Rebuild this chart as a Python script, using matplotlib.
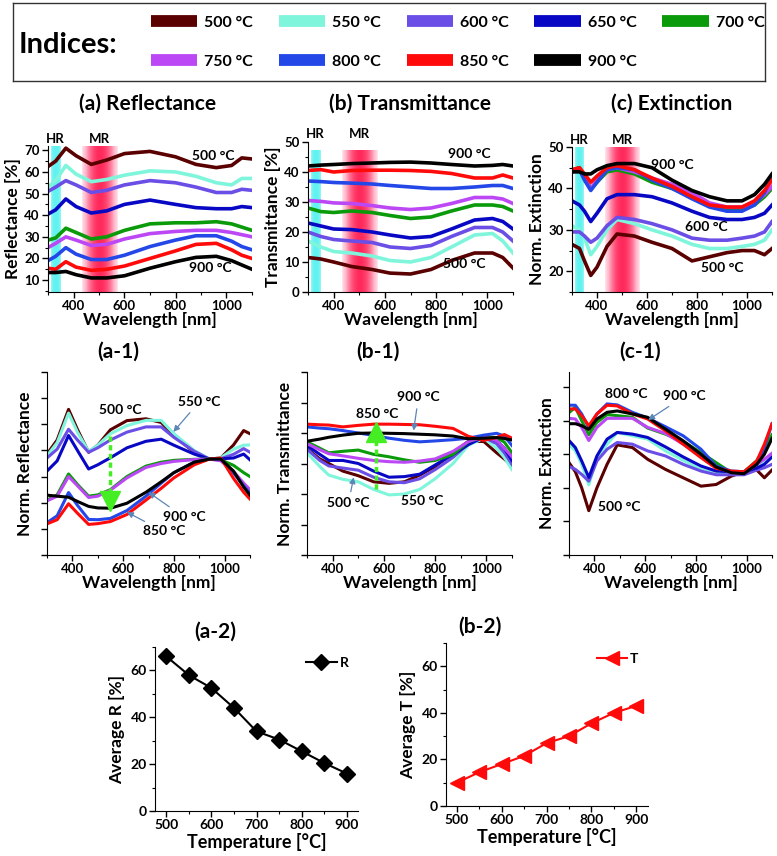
import numpy as np
import matplotlib
matplotlib.use("Agg")
import matplotlib.pyplot as plt
from matplotlib.colors import LinearSegmentedColormap
from matplotlib.lines import Line2D
from matplotlib.ticker import MultipleLocator

plt.rcParams['font.family'] = ['Lato', 'DejaVu Sans']
plt.rcParams['font.weight'] = 'bold'
plt.rcParams['axes.labelweight'] = 'bold'

# ---------------- data ----------------
temps = [500, 550, 600, 650, 700, 750, 800, 850, 900]
colors = ['#5a0000', '#7ff5dc', '#6b4ee6', '#0808c4', '#0a9a0a',
          '#bc48f5', '#2448e8', '#ff0a0a', '#000000']

# (a) reflectance [%]
wl_a = [300, 330, 370, 410, 470, 530, 600, 700, 800, 880, 960, 1020, 1060, 1100]
refl = [
    [62.5, 65, 71, 67.5, 63.5, 65.5, 68.5, 69.5, 67, 63.5, 62, 63, 66.5, 66],
    [53, 56, 63, 59, 55.5, 56.5, 58.5, 60.5, 60, 58, 55, 54, 57, 57],
    [51, 53, 56, 54, 50.5, 51.5, 54, 56, 55, 53, 50.5, 50.5, 52, 51.5],
    [40.5, 42.5, 47.5, 44, 41, 42, 45, 47, 45, 43.5, 43, 43, 44, 43.5],
    [28.5, 29.5, 34, 32, 29, 30, 33, 36, 36.5, 36.5, 37, 36, 34.5, 33],
    [25, 27, 30, 28.5, 26, 26.5, 29, 31.5, 32.5, 33, 33, 32, 31, 30],
    [19, 21, 25, 22, 19.5, 19.5, 21.5, 25.5, 28.5, 30.5, 30.5, 28, 25.5, 24],
    [15.5, 15, 18.5, 16, 14.5, 15, 16.5, 20, 23.5, 26.5, 27, 24, 21.5, 20],
    [13.5, 13.5, 14, 12.5, 11, 11, 12, 15.5, 18.5, 20.5, 21, 19, 17, 15],
]

# (b) transmittance [%]
wl_b = [300, 350, 400, 470, 550, 620, 700, 780, 860, 950, 1020, 1060, 1100]
trans = [
    [11.5, 11, 10, 8.5, 7.5, 6.3, 6, 7.5, 10.5, 13, 13, 11.5, 8],
    [17, 15, 13.5, 13, 12, 10.5, 10, 11.5, 15, 19, 19.5, 17, 13],
    [20, 18.5, 17.5, 17, 16.5, 15, 14.5, 15.5, 18.5, 21.5, 21.5, 20, 17],
    [23, 22, 21, 20.8, 20, 19, 18, 18.5, 21, 24, 24.5, 23.5, 21],
    [28, 26.8, 26.5, 27, 26.5, 25.5, 24.5, 25, 27, 29, 29, 28.5, 27],
    [30.5, 30.2, 29.7, 29.5, 28.8, 28, 27.5, 28, 29.5, 31.5, 31.5, 31, 29.5],
    [37, 36.8, 36.5, 36.3, 36, 35.5, 35, 34.5, 34.5, 35, 35.5, 35.5, 34.5],
    [40.5, 40.8, 40, 40.5, 40.6, 40.6, 40.5, 40.2, 39.5, 38, 38, 39, 38],
    [42, 42.3, 42.5, 42.8, 43, 43.2, 43.3, 43, 42.5, 42, 42.2, 42.5, 42],
]

# (c) normalized extinction
wl_c = [300, 330, 350, 375, 400, 440, 480, 550, 620, 700, 780, 850, 920, 980, 1030, 1070, 1100]
ext = [
    [26.5, 25.5, 22.5, 19, 21, 26, 29, 28.5, 27, 25.5, 22.5, 23.5, 24.5, 25, 25, 24, 25.5],
    [31, 30, 28, 24, 26, 30, 32.5, 31.5, 30, 28.5, 26.5, 25.5, 25.5, 26, 26.5, 27.5, 30],
    [29.5, 29.5, 28.5, 27, 28, 31, 33, 32.5, 31.5, 30, 28, 27.5, 27.5, 28, 28.5, 29.5, 32],
    [37, 36, 34.5, 32, 34, 37.5, 38.5, 38.5, 38, 36.5, 34.5, 33, 32.5, 32.5, 33, 34, 36],
    [44.5, 45, 43, 40, 41.5, 44, 44.5, 43.5, 41.5, 40, 38, 36, 35, 35, 36, 38, 40],
    [44, 44.5, 42.5, 40, 42, 44.5, 45, 44, 42.5, 41, 39, 36.5, 35.5, 35.5, 36.5, 38.5, 40.5],
    [44, 44.5, 42, 39.5, 41.5, 44.5, 45, 44.5, 42, 40, 37.5, 35.5, 34.5, 34.5, 36, 39, 43],
    [44.5, 45, 43.5, 41.5, 43, 45, 45.5, 44.5, 42.5, 40.5, 38, 36, 35.5, 35.5, 37, 39.5, 42],
    [44, 44, 43.5, 43.5, 44.5, 45.5, 46, 46, 45, 42, 39.5, 38, 37, 37, 38.5, 41, 43.5],
]

# (a-1) normalized reflectance (a.u.)
wl_a1 = [300, 340, 385, 420, 464, 500, 550, 615, 690, 750, 800, 880, 940, 985, 1035, 1075, 1100]
nrefl = [
    [3.86, 4.4, 5.57, 4.8, 3.93, 4.2, 4.79, 5.14, 5.21, 5.07, 4.57, 3.93, 3.67, 3.71, 4.21, 4.76, 4.64],
    [3.79, 4.3, 5.43, 4.7, 3.96, 4.2, 4.64, 4.95, 5.15, 5.15, 4.64, 4.0, 3.67, 3.72, 4.05, 4.2, 4.21],
    [3.71, 4.05, 4.81, 4.4, 3.93, 4.1, 4.4, 4.7, 4.9, 4.9, 4.5, 3.97, 3.67, 3.68, 3.85, 4.07, 3.93],
    [3.21, 3.6, 4.57, 4.0, 3.29, 3.45, 3.72, 4.1, 4.35, 4.43, 4.2, 3.86, 3.67, 3.68, 3.71, 3.86, 3.64],
    [2.1, 2.3, 3.1, 2.7, 2.25, 2.3, 2.5, 3.0, 3.4, 3.55, 3.62, 3.66, 3.67, 3.64, 3.43, 3.15, 3.0],
    [2.07, 2.25, 3.0, 2.65, 2.2, 2.25, 2.48, 2.95, 3.35, 3.5, 3.58, 3.65, 3.67, 3.6, 3.2, 2.75, 2.5],
    [1.24, 1.5, 2.39, 1.9, 1.36, 1.35, 1.4, 1.7, 2.25, 2.75, 3.15, 3.55, 3.67, 3.67, 3.14, 2.65, 2.36],
    [1.19, 1.35, 1.96, 1.6, 1.17, 1.2, 1.28, 1.55, 2.1, 2.55, 2.95, 3.45, 3.67, 3.71, 2.93, 2.4, 2.14],
    [2.29, 2.25, 2.21, 2.05, 1.86, 1.8, 1.79, 1.98, 2.4, 2.8, 3.15, 3.55, 3.67, 3.67, 3.21, 2.6, 2.29],
]

# (b-1) normalized transmittance (a.u.)
wl_b1 = [300, 350, 385, 440, 500, 560, 620, 680, 740, 800, 870, 930, 990, 1040, 1070, 1100]
ntrans = [
    [3.49, 3.15, 3.0, 2.75, 2.6, 2.4, 2.35, 2.4, 2.62, 2.9, 3.35, 3.73, 3.72, 3.35, 3.15, 2.92],
    [3.35, 2.9, 2.62, 2.48, 2.4, 2.15, 1.97, 2.0, 2.15, 2.5, 3.0, 3.6, 3.83, 3.5, 3.2, 2.8],
    [3.47, 3.1, 2.92, 2.85, 2.78, 2.55, 2.4, 2.37, 2.5, 2.8, 3.2, 3.65, 3.86, 3.65, 3.35, 2.98],
    [3.59, 3.3, 3.1, 3.1, 3.0, 2.75, 2.55, 2.57, 2.65, 2.95, 3.3, 3.62, 3.87, 3.75, 3.5, 3.1],
    [3.71, 3.5, 3.35, 3.4, 3.44, 3.3, 3.22, 3.12, 3.04, 3.1, 3.3, 3.72, 3.88, 3.85, 3.7, 3.35],
    [3.65, 3.45, 3.32, 3.25, 3.17, 3.1, 3.06, 3.04, 3.08, 3.15, 3.4, 3.72, 3.88, 3.75, 3.5, 3.22],
    [4.2, 4.16, 4.14, 4.08, 4.0, 3.92, 3.83, 3.76, 3.71, 3.74, 3.78, 3.83, 3.93, 3.99, 3.9, 3.59],
    [4.29, 4.27, 4.26, 4.2, 4.25, 4.29, 4.29, 4.28, 4.27, 4.22, 4.15, 3.89, 3.76, 3.85, 3.95, 3.83],
    [3.73, 3.8, 3.86, 3.93, 3.99, 4.0, 3.99, 3.98, 3.96, 3.94, 3.9, 3.81, 3.83, 3.85, 3.82, 3.77],
]

# (c-1) normalized extinction (a.u.)
wl_c1 = [300, 325, 350, 378, 410, 450, 490, 550, 610, 680, 750, 820, 880, 940, 990, 1040, 1070, 1100]
next1 = [
    [2.75, 2.48, 2.0, 1.32, 2.0, 2.7, 3.28, 3.2, 2.85, 2.55, 2.3, 2.05, 2.1, 2.35, 2.48, 2.53, 2.3, 2.53],
    [3.3, 3.1, 2.7, 2.09, 2.9, 3.3, 3.65, 3.55, 3.45, 3.1, 2.82, 2.55, 2.43, 2.42, 2.42, 2.59, 2.75, 2.97],
    [2.64, 2.55, 2.4, 2.2, 2.8, 3.15, 3.35, 3.3, 3.1, 2.95, 2.7, 2.5, 2.39, 2.39, 2.39, 2.53, 2.6, 2.7],
    [3.41, 3.2, 2.8, 2.31, 2.95, 3.45, 3.65, 3.6, 3.5, 3.22, 2.92, 2.65, 2.5, 2.48, 2.48, 2.59, 2.7, 2.92],
    [4.24, 4.4, 4.0, 3.58, 3.95, 4.18, 4.15, 4.1, 3.78, 3.6, 3.38, 3.05, 2.75, 2.45, 2.48, 2.81, 3.15, 3.58],
    [4.07, 4.05, 3.8, 3.41, 3.8, 4.07, 4.07, 4.07, 3.8, 3.62, 3.3, 2.95, 2.62, 2.45, 2.42, 2.7, 2.85, 3.03],
    [4.46, 4.46, 4.2, 3.8, 4.2, 4.5, 4.47, 4.25, 4.08, 3.82, 3.55, 3.15, 2.65, 2.5, 2.48, 2.7, 3.2, 3.91],
    [4.35, 4.35, 4.15, 3.85, 4.2, 4.46, 4.44, 4.2, 4.05, 3.7, 3.3, 2.9, 2.58, 2.5, 2.48, 2.8, 3.3, 3.91],
    [3.91, 3.91, 3.85, 3.74, 4.05, 4.25, 4.29, 4.2, 4.1, 3.75, 3.4, 3.0, 2.62, 2.45, 2.42, 2.7, 3.0, 3.47],
]

# (a-2), (b-2) averages
avg_R = [66, 58, 52.5, 44, 34, 30.5, 25.5, 20.5, 16]
avg_T = [10, 14.5, 18, 21.5, 27, 30, 35.5, 40, 43]

# ---------------- figure ----------------
W, H = 777, 856
fig = plt.figure(figsize=(W / 100, H / 100), dpi=100)


def add_ax(l, t, r, b):
    return fig.add_axes([l / W, 1 - b / H, (r - l) / W, (b - t) / H])


def style(ax, fs=9.5):
    for s in ['top', 'right']:
        ax.spines[s].set_visible(False)
    ax.tick_params(direction='out', length=4, width=1, labelsize=fs, pad=2)
    ax.tick_params(which='minor', direction='out', length=2.5, width=0.8)


mr_cmap = LinearSegmentedColormap.from_list('mr', ['#ffffff', '#ffb8cc', '#ff2a5c'])
hr_cmap = LinearSegmentedColormap.from_list('hr', ['#ffffff', '#5ff2f0'])


def bands(ax, ytop):
    y0 = ax.get_ylim()[0]
    g = np.linspace(0, 1, 80)
    hr = 0.55 + 0.45 * np.sin(np.pi * g) ** 0.5
    mr = 0.18 + 0.82 * np.sin(np.pi * g) ** 0.8
    ax.imshow(hr[None, :], extent=(310, 346, y0, ytop), aspect='auto',
              cmap=hr_cmap, vmin=0, vmax=1, zorder=0, interpolation='bilinear')
    ax.imshow(mr[None, :], extent=(432, 570, y0, ytop), aspect='auto',
              cmap=mr_cmap, vmin=0, vmax=1, zorder=0, interpolation='bilinear')


def wl_axis(ax):
    ax.set_xlim(300, 1100)
    ax.set_xticks([400, 600, 800, 1000])
    ax.xaxis.set_minor_locator(MultipleLocator(100))
    ax.set_xlabel('Wavelength [nm]', fontsize=12.5, labelpad=0)


# legend box
lax = fig.add_axes([13 / W, 1 - 81 / H, 752 / W, 78 / H])
lax.set_xlim(0, 752)
lax.set_ylim(78, 0)
lax.set_xticks([])
lax.set_yticks([])
for s in lax.spines.values():
    s.set_linewidth(1.0)
    s.set_color('#333333')
lax.text(6, 42, 'Indices:', fontsize=21, va='center', ha='left')
order = [0, 5, 1, 6, 2, 7, 3, 8, 4]
handles = [Line2D([], [], color=colors[i], lw=8.5, solid_capstyle='butt') for i in order]
labels = ['%d °C' % temps[i] for i in order]
lax.legend(handles, labels, loc='center left', bbox_to_anchor=(0.175, 0.5), ncol=5,
           frameon=False, fontsize=11.5, handlelength=2.9, handletextpad=0.45,
           columnspacing=1.6, labelspacing=1.55, borderaxespad=0)

# ---- top row ----
ax_a = add_ax(48, 146, 252, 292)
for i in range(9):
    ax_a.plot(wl_a, refl[i], color=colors[i], lw=2.6, solid_joinstyle='round')
ax_a.set_ylim(4.5, 72)
bands(ax_a, 72)
wl_axis(ax_a)
ax_a.set_yticks(range(10, 71, 10))
ax_a.yaxis.set_minor_locator(MultipleLocator(5))
ax_a.set_ylabel('Reflectance [%]', fontsize=12.5, labelpad=2)
style(ax_a)
ax_a.text(950, 67.5, '500 °C', fontsize=10, ha='center', va='center')
ax_a.text(935, 15.5, '900 °C', fontsize=10, ha='center', va='center')

ax_b = add_ax(308, 142, 513, 292)
for i in range(9):
    ax_b.plot(wl_b, trans[i], color=colors[i], lw=2.6, solid_joinstyle='round')
ax_b.set_ylim(0, 50)
bands(ax_b, 47.2)
wl_axis(ax_b)
ax_b.set_yticks(range(0, 51, 10))
ax_b.yaxis.set_minor_locator(MultipleLocator(5))
ax_b.set_ylabel('Transmittance [%]', fontsize=12.5, labelpad=2)
style(ax_b)
ax_b.text(930, 46, '900 °C', fontsize=10, ha='center', va='center')
ax_b.text(910, 9.4, '500 °C', fontsize=10, ha='center', va='center')

ax_c = add_ax(572, 147, 772, 292)
for i in range(9):
    ax_c.plot(wl_c, ext[i], color=colors[i], lw=2.6, solid_joinstyle='round')
ax_c.set_ylim(15, 50)
bands(ax_c, 50)
wl_axis(ax_c)
ax_c.set_yticks(range(20, 51, 10))
ax_c.yaxis.set_minor_locator(MultipleLocator(5))
ax_c.set_ylabel('Norm. Extinction', fontsize=12.5, labelpad=2)
style(ax_c)
ax_c.text(700, 45.6, '900 °C', fontsize=10, ha='center', va='center')
ax_c.text(836, 30.7, '600 °C', fontsize=10, ha='center', va='center')
ax_c.text(900, 20.9, '500 °C', fontsize=10, ha='center', va='center')

for ax in (ax_a, ax_b, ax_c):
    ax.text(328, 1.01, 'HR', transform=ax.get_xaxis_transform(), fontsize=9.5,
            ha='center', va='bottom')
    ax.text(500, 1.01, 'MR', transform=ax.get_xaxis_transform(), fontsize=9.5,
            ha='center', va='bottom')

fig.text(148 / W, 1 - 104 / H, '(a) Reflectance', fontsize=15, ha='center', va='center')
fig.text(410 / W, 1 - 104 / H, '(b) Transmittance', fontsize=15, ha='center', va='center')
fig.text(672 / W, 1 - 104 / H, '(c) Extinction', fontsize=15, ha='center', va='center')

# ---- middle row ----
arrow_c = '#5a86b8'
green = '#44ee22'
arrow_kw = dict(arrowstyle='-|>', color=arrow_c, lw=0.9, mutation_scale=9, shrinkA=2, shrinkB=0)

ax_a1 = add_ax(47, 372, 250, 555)
for i in range(9):
    ax_a1.plot(wl_a1, nrefl[i], color=colors[i], lw=2.2, solid_joinstyle='round')
ax_a1.set_ylim(0, 7)
ax_a1.yaxis.set_major_locator(MultipleLocator(1))
ax_a1.set_yticklabels([])
wl_axis(ax_a1)
ax_a1.set_ylabel('Norm. Reflectance', fontsize=12.5, labelpad=4)
style(ax_a1)
ax_a1.plot([550, 550], [4.57, 2.3], color=green, lw=2.5, ls=(0, (1.5, 1)))
ax_a1.plot([550], [2.05], marker='v', color=green, markersize=15, ls='none')
ax_a1.text(588, 5.55, '500 °C', fontsize=10, ha='center', va='center')
ax_a1.annotate('550 °C', xy=(798, 4.71), xytext=(900, 5.86), fontsize=10, ha='center',
               va='center', arrowprops=arrow_kw)
ax_a1.annotate('900 °C', xy=(700, 2.4), xytext=(840, 1.45), fontsize=10, ha='center',
               va='center', arrowprops=arrow_kw)
ax_a1.annotate('850 °C', xy=(615, 1.64), xytext=(760, 0.9), fontsize=10, ha='center',
               va='center', arrowprops=arrow_kw)

ax_b1 = add_ax(307, 372, 512, 555)
for i in range(9):
    ax_b1.plot(wl_b1, ntrans[i], color=colors[i], lw=2.2, solid_joinstyle='round')
ax_b1.set_ylim(0, 6)
ax_b1.yaxis.set_major_locator(MultipleLocator(1))
ax_b1.set_yticklabels([])
wl_axis(ax_b1)
ax_b1.set_ylabel('Norm. Transmittance', fontsize=12.5, labelpad=4)
style(ax_b1)
ax_b1.plot([569, 569], [2.15, 3.85], color=green, lw=2.5, ls=(0, (1.5, 1)))
ax_b1.plot([569], [4.02], marker='^', color=green, markersize=15, ls='none')
ax_b1.text(573, 4.62, '850 °C', fontsize=10, ha='center', va='center')
ax_b1.annotate('900 °C', xy=(716, 4.08), xytext=(735, 5.17), fontsize=10, ha='center',
               va='center', arrowprops=arrow_kw)
ax_b1.annotate('500 °C', xy=(482, 2.55), xytext=(462, 1.70), fontsize=10, ha='center',
               va='center', arrowprops=arrow_kw)
ax_b1.text(748, 1.76, '550 °C', fontsize=10, ha='center', va='center')

ax_c1 = add_ax(569, 372, 772, 555)
for i in range(9):
    ax_c1.plot(wl_c1, next1[i], color=colors[i], lw=2.2, solid_joinstyle='round')
ax_c1.set_ylim(0, 5.45)
ax_c1.yaxis.set_major_locator(MultipleLocator(1))
ax_c1.set_yticklabels([])
wl_axis(ax_c1)
ax_c1.set_ylabel('Norm. Extinction', fontsize=12.5, labelpad=4)
style(ax_c1)
ax_c1.text(527, 4.79, '800 °C', fontsize=10, ha='center', va='center')
ax_c1.annotate('900 °C', xy=(612, 4.02), xytext=(755, 4.73), fontsize=10, ha='center',
               va='center', arrowprops=arrow_kw)
ax_c1.text(500, 1.43, '500 °C', fontsize=10, ha='center', va='center')

fig.text(118 / W, 1 - 352 / H, '(a-1)', fontsize=15, ha='center', va='center')
fig.text(378 / W, 1 - 352 / H, '(b-1)', fontsize=15, ha='center', va='center')
fig.text(640 / W, 1 - 352 / H, '(c-1)', fontsize=15, ha='center', va='center')

# ---- bottom row ----
ax_r = add_ax(155, 647, 358, 811)
ax_r.plot(temps, avg_R, color='black', lw=1.5, marker='D', markersize=8.5, label='R')
ax_r.set_xlim(475, 925)
ax_r.set_ylim(0, 70)
ax_r.set_xticks(range(500, 901, 100))
ax_r.xaxis.set_minor_locator(MultipleLocator(50))
ax_r.set_yticks([0, 20, 40, 60])
ax_r.yaxis.set_minor_locator(MultipleLocator(10))
ax_r.set_xlabel('Temperature [°C]', fontsize=13, labelpad=1)
ax_r.set_ylabel('Average R [%]', fontsize=12.5, labelpad=4)
style(ax_r, 10)
ax_r.legend(loc='upper right', frameon=False, fontsize=10, handlelength=2.2,
            handletextpad=0.2, borderaxespad=0.3)

ax_t = add_ax(446, 643, 648, 806)
ax_t.plot(temps, avg_T, color='#ff0a0a', lw=1.5, marker='<', markersize=10, label='T')
ax_t.set_xlim(476, 926)
ax_t.set_ylim(0, 70)
ax_t.set_xticks(range(500, 901, 100))
ax_t.xaxis.set_minor_locator(MultipleLocator(50))
ax_t.set_yticks([0, 20, 40, 60])
ax_t.yaxis.set_minor_locator(MultipleLocator(10))
ax_t.set_xlabel('Temperature [°C]', fontsize=13, labelpad=1)
ax_t.set_ylabel('Average T [%]', fontsize=12.5, labelpad=4)
style(ax_t, 10)
ax_t.legend(loc='upper right', frameon=False, fontsize=10, handlelength=2.2,
            handletextpad=0.2, borderaxespad=0.3)

fig.text(215 / W, 1 - 632 / H, '(a-2)', fontsize=15, ha='center', va='center')
fig.text(480 / W, 1 - 627 / H, '(b-2)', fontsize=15, ha='center', va='center')

fig.savefig('out.png', dpi=100)
